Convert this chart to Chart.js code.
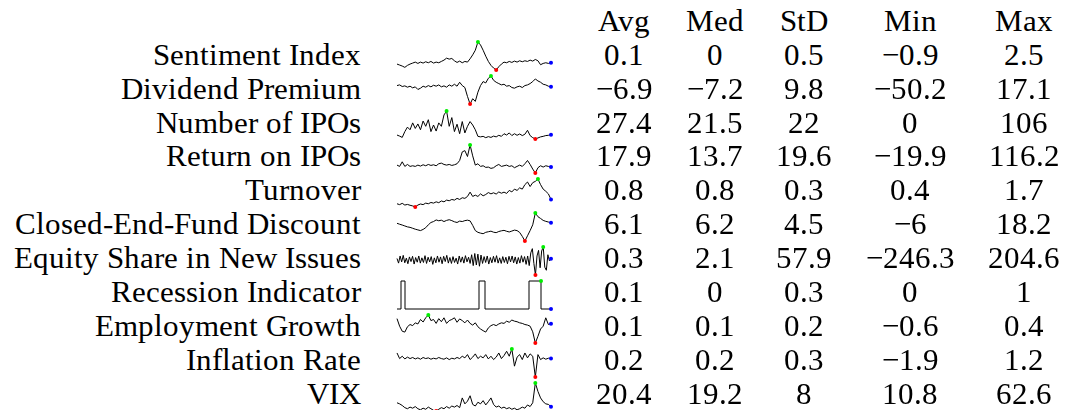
<!DOCTYPE html>
<html>
<head>
<meta charset="utf-8">
<script src="https://cdn.jsdelivr.net/npm/chart.js@4/dist/chart.umd.min.js"></script>
<style>
    @font-face {
        font-family: 'TableSerif';
        src: local('Liberation Serif'), local('LiberationSerif'), local('LiberationSerif-Regular'),
             local('Tinos'), local('Times New Roman');
    }
    html, body { margin: 0; padding: 0; background: #fff; }
    body {
        width: 1065px; height: 410px; position: relative; overflow: hidden;
        font-family: 'TableSerif', 'DejaVu Serif', serif;
        font-size: 31.3px; color: #000;
    }
    .t { position: absolute; line-height: 31.3px; white-space: nowrap; }
    canvas { position: absolute; }
</style>
</head>
<body>
<script>
// Table text
const rowNames = ['Sentiment Index', 'Dividend Premium', 'Number of IPOs', 'Return on IPOs', 'Turnover',
    'Closed-End-Fund Discount', 'Equity Share in New Issues', 'Recession Indicator',
    'Employment Growth', 'Inflation Rate', 'VIX'];
const headers = ['Avg', 'Med', 'StD', 'Min', 'Max'];
const avgCol = ['0.1', '\u22126.9', '27.4', '17.9', '0.8', '6.1', '0.3', '0.1', '0.1', '0.2', '20.4'];
const medCol = ['0', '\u22127.2', '21.5', '13.7', '0.8', '6.2', '2.1', '0', '0.1', '0.2', '19.2'];
const stdCol = ['0.5', '9.8', '22', '19.6', '0.3', '4.5', '57.9', '0.3', '0.2', '0.3', '8'];
const minCol = ['\u22120.9', '\u221250.2', '0', '\u221219.9', '0.4', '\u22126', '\u2212246.3', '0', '\u22120.6', '\u22121.9', '10.8'];
const maxCol = ['2.5', '17.1', '106', '116.2', '1.7', '18.2', '204.6', '1', '0.4', '1.2', '62.6'];

// Sparkline series
const sentiment = [-0.18, -0.30, -0.42, -0.58, -0.34, -0.18, -0.06, 0.06, -0.10, 0.06,
    -0.06, 0.10, -0.02, 0.14, -0.06, 0.06, -0.02, 0.14, 0.30, 0.54,
    0.42, 0.50, 0.22, 0.02, 0.18, -0.02, 0.14, 0.06, 0.46, 0.94,
    1.50, 2.50, 2.14, 1.50, 0.78, 0.14, -0.34, -0.66, -0.90, -0.50,
    -0.18, 0.06, -0.02, 0.14, 0.02, 0.18, 0.06, 0.22, 0.10, 0.22,
    0.14, 0.30, 0.18, 0.38, 0.22, -0.26, -0.10, -0.02, -0.10, -0.02];
const dividendPremium = [-5.9, -4.3, -8.2, -6.6, -9.8, -7.4, -11.4, -9.0, -15.3, -12.2,
    -7.4, -9.8, -5.9, -9.0, -5.1, -7.4, -4.3, -9.0, -6.6, -9.8,
    -4.3, -7.4, -2.7, -7.4, 2.1, -5.9, -10.6, -32.0, -50.2, -37.5,
    -43.9, -21.7, -5.9, 3.7, 0.5, 11.6, 17.1, 6.8, 2.1, -1.1,
    -4.3, -2.7, -7.4, -5.9, -10.6, -12.2, -9.0, -7.4, -10.6, -5.9,
    -4.3, -1.1, 3.7, 10.0, 5.2, 2.1, -2.7, -4.3, -7.4, -9.0];
const ipoCount = [15, 11, 6, 28, 45, 35, 61, 40, 57, 35,
    68, 48, 73, 28, 53, 30, 61, 48, 91, 106,
    48, 81, 28, 56, 20, 66, 23, 48, 66, 53,
    35, 10, 8, 10, 5, 9, 6, 11, 8, 14,
    10, 20, 15, 23, 13, 20, 14, 19, 13, 18,
    33, 13, 5, 0, 4, 8, 10, 13, 14, 16];
const ipoReturn = [18.5, 12.1, 34.5, 12.1, 21.7, 12.1, 15.3, 12.1, 18.5, 13.7,
    20.1, 15.3, 21.7, 16.9, 20.1, 15.3, 25.0, 28.1, 21.7, 18.5,
    21.7, 16.9, 20.1, 25.0, 41.0, 82.6, 89.0, 60.2, 116.2, 63.4,
    18.5, 25.0, 12.1, 15.3, 7.3, 8.9, 2.5, 5.7, 15.3, 21.7,
    12.1, 15.3, 18.5, 12.1, 15.3, 5.7, 12.1, 18.5, 12.1, 25.0,
    41.0, 21.7, -0.7, -19.9, 5.7, 15.3, 8.9, 15.3, 12.1, 8.9];
const turnover = [0.55, 0.51, 0.57, 0.49, 0.52, 0.48, 0.45, 0.40, 0.49, 0.54,
    0.51, 0.58, 0.55, 0.61, 0.58, 0.64, 0.60, 0.68, 0.64, 0.72,
    0.69, 0.75, 0.72, 0.80, 0.75, 0.83, 0.80, 0.89, 1.09, 0.89,
    0.95, 0.89, 1.01, 0.92, 0.98, 1.07, 1.01, 1.06, 1.00, 1.10,
    1.04, 1.09, 1.03, 1.17, 1.10, 1.23, 1.17, 1.29, 1.23, 1.44,
    1.56, 1.35, 1.53, 1.59, 1.70, 1.44, 1.23, 1.13, 1.01, 0.75];
const cefDiscount = [9.3, 8.5, 7.8, 7.0, 6.2, 5.8, 5.0, 4.2, 3.6, 3.0,
    4.0, 5.5, 8.0, 10.0, 10.8, 12.2, 11.5, 12.0, 10.8, 11.8,
    12.4, 11.6, 10.6, 10.0, 11.2, 10.8, 11.6, 12.0, 11.4, 7.5,
    3.0, 1.5, 0.8, 0.3, 1.5, 2.0, 2.5, 1.6, 1.2, 2.2,
    2.8, 3.2, 2.4, 1.8, 2.6, 3.4, 3.0, 1.4, -2.0, -6.0,
    -1.5, 3.0, 8.0, 18.2, 15.0, 13.5, 11.8, 11.0, 10.4, 9.7];
const equityShare = [20, -55, 60, -35, 70, -50, 25, -65, 45, -30,
    55, -70, 35, -40, 60, -55, 30, -45, 65, -60,
    40, -35, 50, -75, 30, -50, 60, -40, 45, -65,
    55, -30, 70, -55, 35, -60, 50, -45, 25, -70,
    60, -40, 45, -55, 65, -35, 40, -60, 80, -95,
    100, -85, 90, -105, 75, -60, 50, -45, 60, -70,
    35, -50, 55, -40, 65, -55, 30, -60, 50, -45,
    40, -65, 55, -35, 60, -50, 45, -70, 35, -55,
    65, -40, 50, -75, 60, -95, 110, 178, -60, -246.3,
    60, 150, -130, 140, 204.6, -120, -170, 80, -20, 14];
const recession = [0, 0, 0, 1, 1, 0, 0, 0, 0, 0,
    0, 0, 0, 0, 0, 0, 0, 0, 0, 0,
    0, 0, 0, 0, 0, 0, 0, 0, 0, 0,
    0, 0, 0, 0, 0, 0, 0, 0, 0, 0,
    0, 0, 1, 1, 1, 0, 0, 0, 0, 0,
    0, 0, 0, 0, 0, 0, 0, 0, 0, 0,
    0, 0, 0, 0, 0, 0, 0, 1, 1, 1,
    1, 1, 1, 0, 0, 0, 0, 0];
const employment = [0.27, 0.0, -0.18, -0.21, -0.02, 0.06, 0.02, 0.12, 0.08, 0.24,
    0.15, 0.30, 0.40, 0.20, 0.24, 0.10, 0.27, 0.16, 0.30, 0.10,
    0.20, 0.24, 0.30, 0.14, 0.26, 0.20, 0.12, 0.22, 0.10, 0.04,
    0.12, -0.02, -0.10, -0.16, -0.21, -0.06, 0.02, 0.06, 0.02, 0.08,
    0.12, 0.10, 0.18, 0.14, 0.22, 0.18, 0.16, 0.12, 0.10, 0.06,
    0.04, 0.0, -0.20, -0.60, -0.36, -0.10, 0.0, 0.30, 0.06, 0.09];
const inflation = [0.76, 0.14, 0.40, 0.10, 0.30, 0.14, 0.26, 0.10, 0.22, 0.07,
    0.26, 0.14, 0.22, 0.07, 0.18, 0.10, 0.26, 0.14, 0.07, 0.22,
    0.03, 0.18, 0.10, 0.26, 0.14, 0.40, 0.22, 0.58, 0.03, 0.30,
    0.66, 0.14, 0.40, 0.22, 0.58, 0.10, 0.40, 0.03, 0.30, 0.76,
    0.14, 0.48, 0.95, 0.40, 1.20, -0.70, 0.30, 0.58, 0.03, 0.76,
    0.22, 0.66, 0.40, -1.90, 0.58, 0.03, 0.22, 0.07, 0.18, 0.14];
const vix = [26, 24, 21, 17, 15, 18, 16, 19, 15, 13,
    16, 14, 18, 15, 12, 10.8, 14, 17, 15, 19,
    16, 20, 18, 21, 17, 35, 24, 29, 39, 23,
    20, 27, 24, 30, 22, 28, 35, 23, 18, 20,
    16, 18, 15, 17, 14, 16, 13, 15, 18, 16,
    22, 19, 26, 62.6, 47, 35, 28, 24, 23, 18.8];

const series = [sentiment, dividendPremium, ipoCount, ipoReturn, turnover, cefDiscount,
    equityShare, recession, employment, inflation, vix];

// Layout
const ASCENT = 26.3;          // baseline offset inside a 31.3px line box
const LABEL_RIGHT = 361;
const COL_X = [624, 715, 804, 910, 1024];
const HEAD_BASE = 31.5, BASE0 = 65, ROW_H = 33.9;
const SPARK_LEFT = 397, SPARK_W = 154, SPARK_H = 28, SPARK_TOP0 = 42.3, SPARK_STEP = 34.1, PAD = 6;

function addText(text, x, baseline, align) {
    const d = document.createElement('div');
    d.className = 't';
    d.textContent = text;
    d.style.top = (baseline - ASCENT) + 'px';
    if (align === 'right') {
        d.style.right = (1065 - x) + 'px';
    } else {
        d.style.left = (x - 80) + 'px';
        d.style.width = '160px';
        d.style.textAlign = 'center';
    }
    document.body.appendChild(d);
}

function drawSpark(values, row) {
    const cv = document.createElement('canvas');
    cv.width = SPARK_W + 2 * PAD;
    cv.height = SPARK_H + 2 * PAD;
    cv.style.left = (SPARK_LEFT - PAD) + 'px';
    cv.style.top = Math.round(SPARK_TOP0 + SPARK_STEP * row - PAD) + 'px';
    document.body.appendChild(cv);

    const n = values.length;
    const hi = Math.max(...values), lo = Math.min(...values);
    const iHi = values.lastIndexOf(hi), iLo = values.lastIndexOf(lo);
    const radius = values.map((v, k) => (k === iHi || k === iLo || k === n - 1) ? 2 : 0);
    const colors = values.map((v, k) => k === n - 1 ? '#0000ff' : (k === iHi ? '#00ee00' : '#ff0000'));

    new Chart(cv, {
        type: 'line',
        data: {
            labels: values.map((_, k) => k),
            datasets: [{
                data: values,
                borderColor: '#000',
                borderWidth: 1,
                tension: 0,
                stepped: values === recession ? 'after' : false,
                pointRadius: radius,
                pointBackgroundColor: colors,
                pointBorderWidth: 0,
                clip: false
            }]
        },
        options: {
            responsive: false,
            animation: false,
            devicePixelRatio: 1,
            events: [],
            layout: { padding: PAD },
            plugins: { legend: { display: false }, tooltip: { enabled: false } },
            scales: {
                x: { display: false },
                y: { display: false, min: lo, max: hi }
            }
        }
    });
}

headers.forEach((h, c) => addText(h, COL_X[c], HEAD_BASE, 'center'));
rowNames.forEach((name, i) => {
    const b = BASE0 + ROW_H * i;
    addText(name, LABEL_RIGHT, b, 'right');
    [avgCol, medCol, stdCol, minCol, maxCol].forEach((col, c) => addText(col[i], COL_X[c], b, 'center'));
    drawSpark(series[i], i);
});
</script>
</body>
</html>
